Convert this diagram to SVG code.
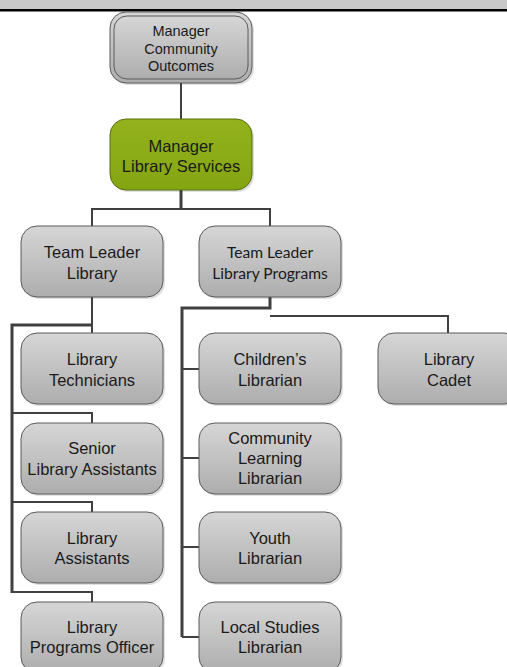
<svg xmlns="http://www.w3.org/2000/svg" width="507" height="667" viewBox="0 0 507 667">
<defs>
<linearGradient id="g" x1="0" y1="0" x2="0" y2="1">
<stop offset="0" stop-color="#d6d6d6"/>
<stop offset="1" stop-color="#adadad"/>
</linearGradient>
<linearGradient id="gg" x1="0" y1="0" x2="0" y2="1">
<stop offset="0" stop-color="#93b21d"/>
<stop offset="1" stop-color="#84a512"/>
</linearGradient>
</defs>
<style>
.box{fill:url(#g);stroke:#5a5a5a;stroke-width:1}
.sh{fill:#000;opacity:0.12}
.t{font-family:"Liberation Sans",Arial,sans-serif;font-size:16.5px;fill:#1a1a1a;text-anchor:middle}
.tc{font-family:Lato,"Open Sans",sans-serif;font-size:15.6px;fill:#1a1a1a;text-anchor:middle}
.ts{font-family:"Liberation Sans",Arial,sans-serif;font-size:14.5px;fill:#1a1a1a;text-anchor:middle}
.c{fill:none;stroke:#404040;stroke-width:2}
.ck{fill:none;stroke:#404040;stroke-width:3}
</style>
<rect x="0" y="0" width="507" height="9" fill="#c8c8c8"/>
<rect x="0" y="9" width="507" height="2.5" fill="#000"/>

<g id="connectors">
<path class="c" d="M181 83V119"/>
<path class="ck" d="M181 190V209"/>
<path class="c" d="M92 226V209H270V226"/>
<path class="c" d="M92 297V333"/>
<path class="ck" d="M92 325H12V593"/>
<path class="c" d="M12 413H92V423"/>
<path class="c" d="M12 502H92V512"/>
<path class="c" d="M12 592H92V602"/>
<path class="ck" d="M270 297V308H182V637"/>
<path class="c" d="M182 369H199"/>
<path class="c" d="M182 458H199"/>
<path class="c" d="M182 547H199"/>
<path class="c" d="M182 637H199"/>
<path class="c" d="M270 316H448V333"/>
</g>

<g id="n-mco">
<rect class="sh" x="112" y="14" width="142" height="71" rx="16"/>
<rect class="box" x="110" y="12" width="142" height="71" rx="16"/>
<rect class="box" x="114" y="16" width="134" height="63" rx="13"/>
<text class="ts" x="181" y="36">Manager</text>
<text class="ts" x="181" y="53.5">Community</text>
<text class="ts" x="181" y="71">Outcomes</text>
</g>

<g id="n-mls">
<rect class="sh" x="112" y="121" width="142" height="71" rx="16"/>
<rect x="110" y="119" width="142" height="71" rx="16" fill="url(#gg)" stroke="#5a6e10" stroke-width="1"/>
<text class="t" x="181" y="152">Manager</text>
<text class="t" x="181" y="172">Library Services</text>
</g>

<g id="n-tll">
<rect class="sh" x="23" y="228" width="142" height="71" rx="16"/>
<rect class="box" x="21" y="226" width="142" height="71" rx="16"/>
<text class="t" x="92" y="258">Team Leader</text>
<text class="t" x="92" y="278.5">Library</text>
</g>

<g id="n-tllp">
<rect class="sh" x="201" y="228" width="142" height="71" rx="16"/>
<rect class="box" x="199" y="226" width="142" height="71" rx="16"/>
<text class="tc" x="270" y="258">Team Leader</text>
<text class="tc" x="270" y="278.5">Library Programs</text>
</g>

<g id="n-lt">
<rect class="sh" x="23" y="335" width="142" height="71" rx="16"/>
<rect class="box" x="21" y="333" width="142" height="71" rx="16"/>
<text class="t" x="92" y="365">Library</text>
<text class="t" x="92" y="385.5">Technicians</text>
</g>

<g id="n-sla">
<rect class="sh" x="23" y="425" width="142" height="71" rx="16"/>
<rect class="box" x="21" y="423" width="142" height="71" rx="16"/>
<text class="t" x="92" y="454">Senior</text>
<text class="t" x="92" y="474.5">Library Assistants</text>
</g>

<g id="n-la">
<rect class="sh" x="23" y="514" width="142" height="71" rx="16"/>
<rect class="box" x="21" y="512" width="142" height="71" rx="16"/>
<text class="t" x="92" y="543.5">Library</text>
<text class="t" x="92" y="564">Assistants</text>
</g>

<g id="n-lpo">
<rect class="sh" x="23" y="604" width="142" height="71" rx="16"/>
<rect class="box" x="21" y="602" width="142" height="71" rx="16"/>
<text class="t" x="92" y="632.5">Library</text>
<text class="t" x="92" y="653">Programs Officer</text>
</g>

<g id="n-cl">
<rect class="sh" x="201" y="335" width="142" height="71" rx="16"/>
<rect class="box" x="199" y="333" width="142" height="71" rx="16"/>
<text class="t" x="270" y="365">Children’s</text>
<text class="t" x="270" y="385.5">Librarian</text>
</g>

<g id="n-cll">
<rect class="sh" x="201" y="425" width="142" height="71" rx="16"/>
<rect class="box" x="199" y="423" width="142" height="71" rx="16"/>
<text class="t" x="270" y="444">Community</text>
<text class="t" x="270" y="464">Learning</text>
<text class="t" x="270" y="484">Librarian</text>
</g>

<g id="n-yl">
<rect class="sh" x="201" y="514" width="142" height="71" rx="16"/>
<rect class="box" x="199" y="512" width="142" height="71" rx="16"/>
<text class="t" x="270" y="543.5">Youth</text>
<text class="t" x="270" y="564">Librarian</text>
</g>

<g id="n-lsl">
<rect class="sh" x="201" y="604" width="142" height="71" rx="16"/>
<rect class="box" x="199" y="602" width="142" height="71" rx="16"/>
<text class="t" x="270" y="632.5">Local Studies</text>
<text class="t" x="270" y="653">Librarian</text>
</g>

<g id="n-lc">
<rect class="sh" x="380" y="335" width="142" height="71" rx="16"/>
<rect class="box" x="378" y="333" width="142" height="71" rx="16"/>
<text class="t" x="449" y="365">Library</text>
<text class="t" x="449" y="385.5">Cadet</text>
</g>
</svg>
